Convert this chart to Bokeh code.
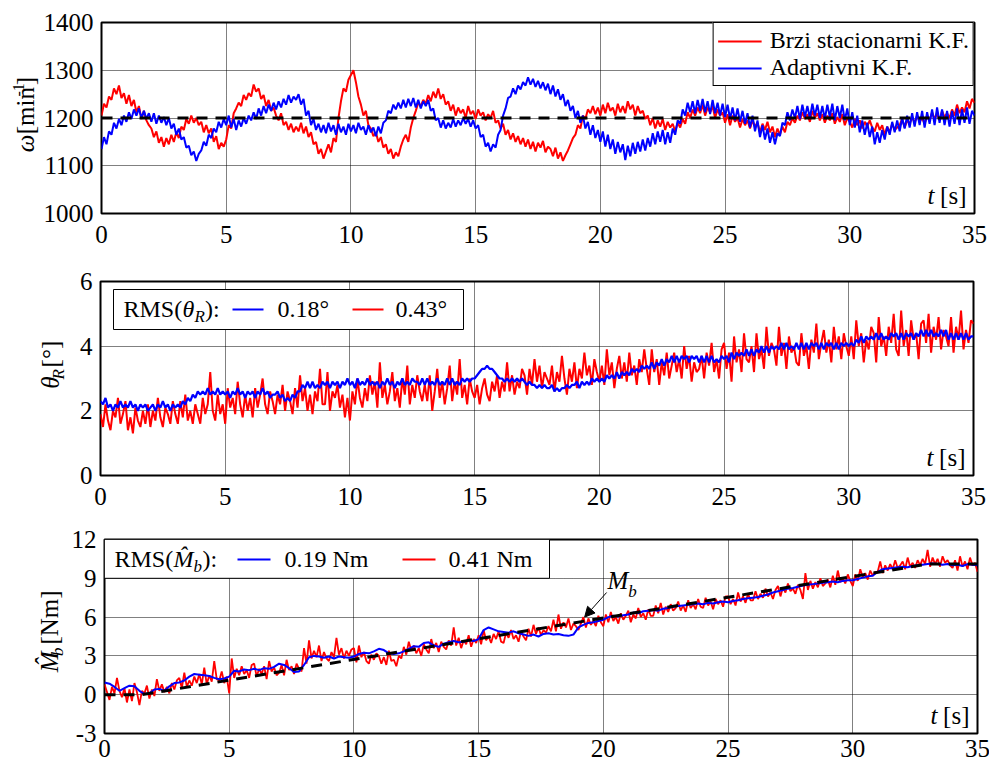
import numpy as np
from bokeh.plotting import figure
from bokeh.models import (Range1d, FixedTicker, Label, BoxAnnotation, Arrow,
                          NormalHead, Legend, LegendItem)
from bokeh.layouts import column, row
from bokeh.embed import file_html
from bokeh.resources import INLINE

# ---------------- data ----------------
x_ticks = [0, 5, 10, 15, 20, 25, 30, 35]
w_ticks = [1000, 1100, 1200, 1300, 1400]
theta_ticks = [0, 2, 4, 6]
mb_ticks = [-3, 0, 3, 6, 9, 12]

w_ref_t = [0, 35]
w_ref = [1200, 1200]
mb_ref_t = [0, 1.5, 33, 35]
mb_ref = [0, 0, 10.1, 10.1]

# speed, fast stationary KF  (0.1 s samples)
w_brzi = [
    1205, 1230, 1222, 1245, 1238, 1262, 1250, 1268, 1242, 1252,
    1230, 1248, 1225, 1238, 1212, 1225, 1198, 1215, 1195, 1185,
    1178, 1160, 1172, 1148, 1160, 1140, 1158, 1145, 1165, 1150,
    1170, 1158, 1182, 1175, 1198, 1188, 1205, 1190, 1200, 1185,
    1192, 1170, 1185, 1168, 1178, 1150, 1162, 1135, 1148, 1140,
    1155, 1185, 1178, 1210, 1220, 1232, 1225, 1248, 1238, 1252,
    1245, 1270, 1255, 1262, 1240, 1248, 1225, 1238, 1215, 1222,
    1205, 1195, 1210, 1185, 1192, 1175, 1188, 1170, 1182, 1172,
    1190, 1168, 1182, 1160, 1170, 1145, 1150, 1125, 1135, 1115,
    1130, 1145, 1128, 1158, 1150, 1200, 1235, 1262, 1255, 1280,
    1290, 1300, 1275, 1245, 1228, 1205, 1215, 1185, 1178, 1162,
    1170, 1150, 1160, 1138, 1145, 1125, 1135, 1115, 1128, 1120,
    1140, 1155, 1165, 1150, 1180, 1200, 1215, 1232, 1225, 1238,
    1230, 1248, 1235, 1255, 1242, 1262, 1240, 1250, 1228, 1235,
    1215, 1228, 1205, 1222, 1210, 1218, 1200, 1225, 1208, 1215,
    1198, 1218, 1205, 1212, 1195, 1208, 1200, 1215, 1190, 1195,
    1178, 1188, 1165, 1175, 1155, 1168, 1150, 1162, 1145, 1158,
    1140, 1155, 1135, 1150, 1130, 1148, 1138, 1152, 1128, 1140,
    1135, 1120, 1138, 1115, 1128, 1110, 1122, 1132, 1145, 1158,
    1165, 1185, 1178, 1205, 1198, 1218, 1210, 1225, 1208, 1222,
    1205, 1228, 1210, 1232, 1215, 1222, 1205, 1230, 1212, 1225,
    1210, 1235, 1218, 1228, 1205, 1225, 1210, 1215, 1198, 1205,
    1185, 1200, 1178, 1195, 1182, 1198, 1175, 1192, 1180, 1188,
    1172, 1190, 1180, 1198, 1188, 1212, 1200, 1218, 1205, 1222,
    1210, 1228, 1205, 1222, 1212, 1225, 1200, 1218, 1205, 1212,
    1190, 1208, 1185, 1205, 1192, 1200, 1180, 1198, 1185, 1195,
    1178, 1195, 1182, 1190, 1170, 1188, 1175, 1192, 1170, 1182,
    1160, 1178, 1165, 1182, 1170, 1192, 1185, 1200, 1190, 1205,
    1195, 1212, 1198, 1208, 1192, 1215, 1200, 1210, 1195, 1208,
    1190, 1205, 1195, 1210, 1188, 1202, 1192, 1208, 1185, 1200,
    1192, 1180, 1198, 1185, 1195, 1178, 1192, 1182, 1195, 1180,
    1172, 1190, 1175, 1185, 1165, 1182, 1170, 1188, 1175, 1180,
    1185, 1198, 1180, 1195, 1188, 1202, 1190, 1205, 1192, 1200,
    1188, 1205, 1195, 1212, 1198, 1210, 1195, 1215, 1202, 1210,
    1200, 1218, 1205, 1228, 1210, 1222, 1212, 1235, 1220, 1240,
    1232]

# speed, adaptive KF  (0.1 s samples)
w_adapt = [
    1135, 1160, 1145, 1172, 1165, 1190, 1178, 1198, 1185, 1205,
    1192, 1212, 1198, 1218, 1205, 1220, 1200, 1215, 1198, 1210,
    1192, 1210, 1188, 1205, 1190, 1202, 1185, 1200, 1178, 1188,
    1165, 1178, 1155, 1160, 1138, 1142, 1122, 1130, 1110, 1125,
    1132, 1150, 1142, 1165, 1158, 1178, 1170, 1192, 1180, 1198,
    1185, 1205, 1180, 1198, 1175, 1195, 1182, 1200, 1188, 1205,
    1195, 1212, 1198, 1220, 1205, 1225, 1210, 1228, 1215, 1232,
    1218, 1235, 1222, 1240, 1228, 1248, 1232, 1245, 1238, 1250,
    1228, 1240, 1205, 1215, 1185, 1198, 1175, 1188, 1170, 1185,
    1168, 1190, 1172, 1185, 1165, 1188, 1170, 1182, 1165, 1188,
    1172, 1185, 1168, 1190, 1175, 1182, 1165, 1185, 1170, 1180,
    1162, 1182, 1168, 1190, 1195, 1215, 1210, 1228, 1218, 1232,
    1220, 1238, 1222, 1240, 1225, 1242, 1222, 1238, 1220, 1235,
    1225, 1238, 1215, 1220, 1195, 1200, 1180, 1195, 1178, 1190,
    1180, 1198, 1182, 1195, 1185, 1200, 1188, 1198, 1182, 1195,
    1178, 1185, 1160, 1165, 1140, 1148, 1130, 1145, 1138, 1165,
    1175, 1205, 1220, 1242, 1245, 1262, 1250, 1268, 1260, 1275,
    1268, 1285, 1270, 1282, 1265, 1278, 1262, 1275, 1258, 1272,
    1250, 1268, 1245, 1260, 1238, 1250, 1225, 1238, 1215, 1225,
    1200, 1215, 1190, 1205, 1178, 1192, 1165, 1185, 1158, 1175,
    1150, 1172, 1140, 1165, 1135, 1155, 1125, 1150, 1128, 1145,
    1112, 1142, 1120, 1148, 1125, 1150, 1130, 1155, 1132, 1158,
    1140, 1168, 1145, 1172, 1150, 1175, 1145, 1170, 1148, 1178,
    1165, 1195, 1188, 1218, 1205, 1232, 1212, 1235, 1210, 1238,
    1215, 1240, 1212, 1235, 1208, 1238, 1210, 1232, 1205, 1230,
    1202, 1228, 1198, 1222, 1195, 1220, 1192, 1215, 1188, 1210,
    1180, 1205, 1172, 1195, 1160, 1185, 1155, 1178, 1148, 1170,
    1145, 1168, 1162, 1190, 1185, 1212, 1195, 1218, 1200, 1225,
    1198, 1228, 1202, 1225, 1200, 1230, 1205, 1228, 1200, 1225,
    1198, 1228, 1202, 1230, 1195, 1225, 1200, 1228, 1195, 1220,
    1185, 1212, 1180, 1205, 1170, 1195, 1165, 1190, 1160, 1182,
    1145, 1170, 1148, 1175, 1155, 1182, 1165, 1192, 1170, 1195,
    1172, 1200, 1178, 1205, 1180, 1210, 1182, 1212, 1185, 1215,
    1180, 1212, 1188, 1218, 1185, 1222, 1190, 1218, 1185, 1215,
    1182, 1215, 1188, 1220, 1185, 1218, 1190, 1222, 1188, 1215,
    1205]

# theta_R, fast stationary KF  (0.1 s samples)
theta_brzi = [
    1.9, 1.5, 2.2, 1.7, 1.4, 2.0, 1.8, 2.4, 1.6, 1.9,
    2.3, 1.4, 1.8, 1.3, 2.1, 1.7, 1.5, 2.0, 1.6, 2.2,
    1.5, 2.0, 1.7, 2.4, 1.8, 1.5, 2.1, 1.9, 1.6, 2.3,
    1.9, 1.6, 2.3, 1.8, 2.5, 1.7, 2.0, 1.6, 2.2, 1.9,
    1.6, 2.4, 1.9, 2.2, 3.2, 2.0, 1.7, 2.5, 1.9, 2.2,
    1.6, 2.7, 2.1, 2.4, 1.9, 2.9, 2.2, 1.8, 2.5, 2.0,
    2.4, 1.8, 2.7, 2.1, 2.5, 3.0, 2.2, 1.9, 2.6, 2.3,
    1.9, 2.5, 2.2, 2.8, 2.0, 2.6, 2.3, 1.9, 2.7, 2.1,
    3.1, 2.3, 2.7, 2.0, 2.5, 1.9, 2.6, 2.3, 3.3, 2.2,
    2.2, 3.2, 2.0, 2.6, 2.4, 2.8, 2.1, 2.5, 1.8, 2.4,
    1.7, 2.6, 2.2, 3.0, 2.4, 2.1, 2.7, 2.3, 3.1, 2.5,
    2.9, 2.1, 3.5, 2.4, 2.8, 2.2, 2.6, 3.2, 2.3, 2.7,
    2.1, 3.0, 2.5, 3.4, 2.2, 2.8, 2.4, 3.1, 2.6, 2.3,
    2.8, 2.3, 3.1, 2.0, 2.6, 3.3, 2.4, 2.9, 2.2, 2.7,
    3.4, 2.3, 2.9, 2.5, 3.6, 2.4, 2.8, 2.2, 3.0, 2.6,
    2.4, 2.8, 2.2, 2.7, 3.0, 2.5, 2.3, 2.9, 2.6, 3.1,
    2.4, 2.9, 2.6, 3.5, 2.6, 3.1, 2.5, 2.9, 2.7, 3.3,
    3.1, 2.5, 3.3, 2.8, 3.6, 2.9, 3.4, 2.7, 3.2, 3.0,
    2.8, 3.4, 2.6, 3.2, 2.9, 3.7, 3.0, 2.5, 3.3, 2.9,
    3.5, 2.7, 3.3, 3.0, 3.8, 3.1, 3.4, 2.8, 3.6, 3.2,
    2.9, 3.4, 2.8, 3.9, 3.1, 3.5, 2.7, 3.3, 3.7, 3.0,
    3.5, 2.9, 3.8, 3.1, 3.4, 2.8, 3.6, 3.2, 3.9, 3.3,
    2.8, 3.9, 3.2, 3.6, 2.8, 3.5, 3.1, 3.8, 3.0, 3.4,
    3.8, 3.2, 3.6, 3.0, 4.0, 3.3, 3.7, 2.9, 3.5, 3.2,
    3.3, 3.7, 3.0, 3.8, 3.4, 4.1, 3.2, 3.6, 3.0, 3.9,
    4.1, 3.3, 3.8, 2.9, 4.3, 3.5, 3.9, 3.2, 4.4, 3.6,
    3.5, 4.0, 3.2, 4.4, 3.6, 3.9, 3.3, 4.6, 3.7, 4.1,
    3.9, 3.4, 4.6, 3.7, 4.1, 3.3, 4.3, 3.8, 4.0, 3.5,
    3.4, 4.4, 3.7, 4.0, 3.3, 4.2, 3.8, 4.7, 3.6, 4.1,
    4.5, 3.8, 4.2, 3.5, 4.6, 3.9, 4.3, 3.6, 4.4, 4.0,
    3.7, 4.3, 3.6, 4.8, 4.0, 4.4, 3.5, 4.2, 3.9, 4.6,
    4.4, 3.5, 4.9, 4.0, 4.3, 3.7, 4.6, 4.1, 5.0, 3.9,
    3.7, 5.1, 4.0, 4.5, 3.7, 4.8, 4.2, 4.4, 3.6, 4.7,
    4.8, 4.1, 5.0, 3.8, 4.6, 4.2, 4.9, 3.9, 4.5, 4.3,
    4.0, 4.9, 3.8, 4.6, 4.2, 5.1, 3.9, 4.5, 4.1, 4.8,
    4.7]

# theta_R, adaptive KF  (0.1 s samples)
theta_adapt = [
    2.3, 2.2, 2.4, 2.1, 2.2, 2.0, 2.2, 2.1, 2.3, 2.1,
    2.2, 2.1, 2.3, 2.1, 2.2, 2.0, 2.2, 2.1, 2.2, 2.0,
    2.1, 2.2, 2.0, 2.2, 2.1, 2.3, 2.1, 2.2, 2.0, 2.2,
    2.1, 2.2, 2.1, 2.3, 2.2, 2.4, 2.3, 2.5, 2.4, 2.6,
    2.5, 2.6, 2.5, 2.7, 2.5, 2.6, 2.5, 2.7, 2.5, 2.6,
    2.5, 2.6, 2.4, 2.6, 2.5, 2.7, 2.5, 2.6, 2.4, 2.6,
    2.5, 2.6, 2.4, 2.6, 2.5, 2.7, 2.5, 2.6, 2.4, 2.5,
    2.5, 2.6, 2.4, 2.5, 2.3, 2.4, 2.3, 2.5, 2.4, 2.6,
    2.6, 2.8, 2.7, 2.9, 2.7, 2.9, 2.7, 2.8, 2.7, 2.9,
    2.8, 2.9, 2.7, 2.9, 2.8, 2.9, 2.7, 2.9, 2.8, 3.0,
    2.8, 2.9, 2.7, 3.0, 2.8, 2.9, 2.8, 3.0, 2.8, 2.9,
    2.8, 2.9, 2.7, 2.9, 2.8, 3.0, 2.8, 2.9, 2.7, 2.9,
    2.8, 3.0, 2.8, 2.9, 2.8, 3.0, 2.9, 2.9, 2.8, 3.0,
    2.8, 3.0, 2.8, 2.9, 2.8, 3.0, 2.8, 2.9, 2.8, 3.0,
    2.8, 3.0, 2.8, 2.9, 2.8, 3.0, 2.9, 3.0, 2.9, 3.0,
    3.0, 3.1, 3.2, 3.3, 3.3, 3.4, 3.3, 3.3, 3.2, 3.1,
    3.0, 3.0, 2.9, 3.0, 2.9, 3.0, 2.9, 3.0, 2.9, 3.0,
    2.9, 2.8, 2.9, 2.8, 2.8, 2.7, 2.8, 2.7, 2.8, 2.7,
    2.7, 2.8, 2.6, 2.7, 2.6, 2.7, 2.7, 2.8, 2.7, 2.8,
    2.8, 2.9, 2.7, 2.9, 2.8, 2.9, 2.8, 3.0, 2.9, 3.0,
    2.9, 3.0, 2.9, 3.1, 3.0, 3.1, 3.0, 3.2, 3.0, 3.2,
    3.1, 3.2, 3.1, 3.3, 3.2, 3.3, 3.2, 3.4, 3.3, 3.4,
    3.3, 3.5, 3.3, 3.5, 3.4, 3.6, 3.4, 3.6, 3.5, 3.7,
    3.5, 3.7, 3.5, 3.7, 3.6, 3.7, 3.5, 3.7, 3.6, 3.7,
    3.5, 3.7, 3.5, 3.7, 3.5, 3.7, 3.5, 3.6, 3.5, 3.7,
    3.6, 3.7, 3.5, 3.8, 3.6, 3.8, 3.7, 3.8, 3.7, 3.9,
    3.7, 3.9, 3.7, 3.9, 3.8, 4.0, 3.8, 4.0, 3.8, 4.0,
    3.9, 4.0, 3.9, 4.1, 3.9, 4.1, 3.9, 4.0, 3.9, 4.1,
    3.9, 4.1, 3.9, 4.1, 3.9, 4.1, 4.0, 4.1, 3.9, 4.1,
    3.9, 4.1, 4.0, 4.1, 3.9, 4.1, 3.9, 4.1, 4.0, 4.1,
    4.0, 4.1, 4.0, 4.2, 4.1, 4.3, 4.1, 4.3, 4.2, 4.3,
    4.2, 4.4, 4.2, 4.4, 4.2, 4.3, 4.2, 4.4, 4.3, 4.4,
    4.2, 4.4, 4.2, 4.4, 4.3, 4.4, 4.2, 4.4, 4.3, 4.5,
    4.3, 4.5, 4.3, 4.5, 4.3, 4.4, 4.3, 4.5, 4.3, 4.5,
    4.2, 4.4, 4.2, 4.4, 4.2, 4.4, 4.2, 4.4, 4.2, 4.3,
    4.3]

# estimated load torque, fast stationary KF  (0.1 s samples)
mb_brzi = [
    0.8, 0.2, -0.4, 0.6, 0.1, 1.3, 0.3, -0.2, 0.5, -0.6,
    0.4, -0.5, 0.9, 0.2, -0.8, 0.3, 0.1, 0.7, -0.3, 0.4,
    -0.1, 1.2, 0.3, 0.8, 0.2, 0.6, 0.1, 0.9, 0.4, 1.1,
    1.3, 0.5, 1.7, 0.6, 1.1, 0.7, 1.4, 0.9, 1.6, 0.8,
    2.1, 0.8, 1.5, 1.0, 2.6, 1.2, 1.1, 1.8, 0.9, 1.4,
    0.1, 2.8, 1.3, 2.0, 1.5, 2.2, 1.6, 1.9, 1.3, 2.3,
    2.4, 1.4, 2.0, 1.6, 2.2, 1.2, 2.6, 1.8, 2.1, 1.5,
    1.7, 2.3, 1.5, 2.7, 1.9, 2.2, 1.6, 2.4, 2.0, 1.8,
    3.6, 2.4, 4.2, 2.8, 3.4, 2.9, 3.8, 2.6, 3.3, 2.8,
    2.6, 3.3, 2.9, 4.4, 3.1, 3.6, 2.8, 3.4, 3.0, 3.5,
    3.6, 2.5, 3.8, 2.9, 3.3, 2.6, 2.4, 3.1, 2.7, 3.2,
    3.0, 2.4, 2.9, 2.3, 3.4, 2.6, 2.7, 2.2, 3.0, 2.8,
    3.7, 3.1, 4.1, 3.4, 3.8, 3.2, 3.6, 3.0, 3.9, 3.5,
    3.2, 4.3, 3.6, 4.0, 3.3, 4.1, 3.7, 3.5, 4.2, 3.8,
    5.2, 3.8, 4.4, 3.6, 4.2, 3.9, 4.6, 3.7, 4.3, 4.0,
    4.6, 3.9, 5.0, 4.2, 4.5, 4.0, 4.7, 4.3, 4.9, 4.1,
    4.0, 4.8, 4.4, 5.0, 4.3, 4.6, 4.1, 4.9, 4.5, 4.2,
    5.1, 4.5, 5.4, 4.7, 5.2, 4.6, 5.0, 4.8, 5.3, 4.9,
    5.8, 4.9, 6.2, 5.1, 5.6, 5.2, 5.9, 5.0, 5.5, 5.3,
    5.0, 5.5, 6.0, 5.2, 5.9, 5.4, 5.7, 5.3, 6.1, 5.6,
    5.3, 6.2, 5.6, 6.4, 5.7, 6.0, 5.5, 6.3, 5.8, 6.1,
    6.5, 5.6, 6.2, 5.9, 6.7, 6.0, 6.3, 5.8, 6.6, 6.1,
    6.1, 6.9, 6.3, 7.1, 6.2, 6.8, 6.4, 7.0, 6.5, 6.7,
    7.2, 6.5, 6.9, 6.4, 7.3, 6.7, 7.0, 6.6, 7.4, 6.8,
    6.7, 7.5, 6.9, 7.2, 6.6, 7.4, 7.0, 7.3, 6.8, 7.6,
    7.6, 7.0, 7.4, 6.9, 7.9, 7.2, 7.6, 7.1, 7.8, 7.3,
    7.3, 8.0, 7.4, 7.8, 7.5, 8.2, 7.6, 7.9, 7.4, 8.1,
    8.4, 7.6, 8.3, 7.9, 8.6, 8.0, 8.2, 7.8, 8.5, 8.1,
    7.4, 9.4, 8.1, 8.8, 8.2, 8.7, 8.3, 9.0, 8.4, 8.6,
    8.9, 8.3, 9.2, 8.5, 9.6, 8.7, 9.0, 8.6, 9.3, 8.8,
    8.4, 9.3, 8.8, 9.7, 9.1, 9.4, 8.9, 9.6, 9.2, 9.5,
    9.5, 10.3, 9.4, 10.0, 9.6, 10.1, 9.7, 10.4, 9.8, 10.0,
    10.3, 9.7, 10.6, 9.9, 10.2, 9.8, 10.4, 10.0, 10.5, 10.1,
    11.2, 9.9, 10.6, 10.1, 10.5, 9.9, 10.7, 10.2, 10.4, 10.0,
    9.8, 10.4, 9.6, 10.7, 9.9, 10.3, 9.7, 10.6, 10.0, 10.2,
    9.5]

# estimated load torque, adaptive KF  (0.2 s samples)
mb_adapt = [
    0.95, 0.85, 0.60, 0.30, 0.50, 0.70, 0.65, 0.30, 0.05, 0.10,
    0.40, 0.45, 0.30, 0.65, 0.90, 0.95, 1.10, 1.40, 1.60, 1.55,
    1.50, 1.45, 1.30, 1.20, 1.25, 1.40, 1.85, 1.80, 1.95, 1.90,
    2.00, 1.90, 2.05, 2.00, 2.15, 2.40, 2.30, 2.05, 1.75, 1.80,
    2.30, 2.90, 3.00, 2.95, 2.85, 2.95, 2.80, 2.95, 2.90, 2.85,
    2.95, 3.15, 3.25, 3.20, 3.35, 3.55, 3.45, 3.20, 3.15, 3.20,
    3.35, 3.55, 3.75, 3.70, 4.00, 4.05, 3.80, 3.70, 3.95, 4.05,
    4.15, 4.05, 4.10, 4.20, 4.15, 4.30, 5.00, 5.20, 5.05, 4.90,
    4.85, 4.80, 4.90, 4.75, 4.65, 4.55, 4.65, 4.50, 4.70, 4.75,
    4.65, 4.70, 4.60, 4.55, 4.65, 5.20, 5.40, 5.55, 5.60, 5.70,
    5.80, 6.00, 6.10, 6.05, 6.15, 6.20, 6.35, 6.30, 6.45, 6.50,
    6.55, 6.50, 6.65, 6.70, 6.80, 6.85, 6.90, 6.95, 7.00, 7.05,
    7.00, 7.10, 7.05, 7.15, 7.20, 7.15, 7.25, 7.30, 7.40, 7.45,
    7.50, 7.55, 7.65, 7.75, 7.90, 8.00, 8.10, 8.20, 8.25, 8.35,
    8.45, 8.50, 8.55, 8.60, 8.65, 8.70, 8.75, 8.70, 8.80, 8.85,
    8.85, 8.95, 9.05, 9.15, 9.20, 9.50, 9.70, 9.75, 9.80, 9.85,
    9.90, 9.85, 9.95, 10.00, 10.05, 10.10, 10.15, 10.10, 10.05, 10.10,
    10.00, 10.05, 9.95, 10.10, 10.05, 10.00]

legend_w = ["Brzi stacionarni K.F.", "Adaptivni K.F."]
rms_theta = ["0.18°", "0.43°"]
rms_mb = ["0.19 Nm", "0.41 Nm"]


def times(series):
    # evenly spaced sample instants over the 0..35 s record
    return np.linspace(0.0, 35.0, len(series))


# ---------------- styling helpers ----------------
FONT = "Liberation Serif"
RED = "#ff0000"
BLUE = "#0000ff"
FW = 873          # frame width in px
RB = 13           # right border
MID = 0.34        # distance (in em) from the alphabetic baseline to the text middle


def make_fig(yr, fh, yticks, bl, bt, bb, standoff):
    p = figure(frame_width=FW, frame_height=fh,
               x_range=Range1d(0, 35), y_range=Range1d(*yr),
               output_backend="svg", toolbar_location=None,
               min_border_left=bl, min_border_right=RB,
               min_border_top=bt, min_border_bottom=bb)
    p.outline_line_color = "black"
    p.outline_line_width = 2
    p.outline_line_alpha = 1
    p.xaxis[0].ticker = FixedTicker(ticks=x_ticks)
    p.yaxis[0].ticker = FixedTicker(ticks=yticks)
    p.xgrid[0].ticker = FixedTicker(ticks=x_ticks)
    p.ygrid[0].ticker = FixedTicker(ticks=yticks)
    for ax in (p.xaxis[0], p.yaxis[0]):
        ax.axis_line_color = None
        ax.major_tick_line_color = None
        ax.minor_tick_line_color = None
        ax.major_tick_out = 0
        ax.major_tick_in = 0
        ax.minor_tick_out = 0
        ax.minor_tick_in = 0
        ax.major_label_text_font = FONT
        ax.major_label_text_font_size = "25px"
        ax.major_label_text_color = "black"
    p.xaxis[0].major_label_standoff = standoff
    p.yaxis[0].major_label_standoff = 8
    for g in (p.xgrid[0], p.ygrid[0]):
        g.grid_line_color = "black"
        g.grid_line_dash = "1 1"
        g.grid_line_width = 1
        g.grid_line_alpha = 1.0
    return p


def strip_fig(w, h):
    s = figure(width=w, height=h, x_range=Range1d(0, w), y_range=Range1d(0, h),
               output_backend="svg", toolbar_location=None,
               x_axis_type=None, y_axis_type=None,
               min_border_left=0, min_border_right=0,
               min_border_top=0, min_border_bottom=0)
    s.outline_line_color = None
    s.xgrid.visible = False
    s.ygrid.visible = False
    return s


def fx(dx):
    return dx * 35.0 / FW


def fy(p, fh, dy):
    y0, y1 = p.y_range.start, p.y_range.end
    return y1 - dy * (y1 - y0) / fh


def txt(p, x, y, s, size=25, style="normal", angle=0.0, align="left"):
    p.add_layout(Label(x=x, y=y, text=s, text_font=FONT, text_font_size=f"{size}px",
                       text_font_style=style, text_color="black", angle=angle,
                       text_align=align, text_baseline="middle"))


def htxt(p, fh, dx, dy_base, s, size=25, style="normal", align="left"):
    """horizontal text in a panel; dx/dy_base in px from the frame's top-left,
    dy_base is the alphabetic baseline"""
    txt(p, fx(dx), fy(p, fh, dy_base - MID * size), s, size, style, 0.0, align)


def vtxt(s, x_base, y, text, size=25, style="normal"):
    """text rotated 90 deg in a label strip; x_base is the baseline position"""
    txt(s, x_base - MID * size, y, text, size, style, np.pi / 2, "left")


def t_label(p, fh):
    htxt(p, fh, FW - 8, fh - 10, "[s]", align="right")
    htxt(p, fh, FW - 40, fh - 10, "t", style="italic", align="right")


# ---------------- panel 1 : speed ----------------
FH1, BT1, BB1, SW1 = 191, 22, 40, 40
H1 = BT1 + FH1 + BB1
p1 = make_fig((1000, 1400), FH1, w_ticks, 100 - SW1, BT1, BB1, 12)
r_red = p1.line(times(w_brzi), w_brzi, line_color=RED, line_width=2)
r_blue = p1.line(times(w_adapt), w_adapt, line_color=BLUE, line_width=2)
p1.line(w_ref_t, w_ref, line_color="black", line_width=3, line_dash="11 8")
leg = Legend(items=[LegendItem(label=legend_w[0], renderers=[r_red]),
                    LegendItem(label=legend_w[1], renderers=[r_blue])],
             location="top_right", margin=0, padding=4, spacing=0,
             label_standoff=8, glyph_width=44, glyph_height=22, label_height=22,
             label_text_font=FONT, label_text_font_size="24px",
             label_text_color="black", border_line_color="black",
             border_line_width=1, border_line_alpha=1,
             background_fill_color="white", background_fill_alpha=1)
p1.add_layout(leg)
t_label(p1, FH1)
s1 = strip_fig(SW1, H1)
vtxt(s1, 33, H1 - 172, "ω", style="italic")
vtxt(s1, 33, H1 - 148, "[min")
vtxt(s1, 23, H1 - 98, "-1", size=16)
vtxt(s1, 33, H1 - 83, "]")

# ---------------- panel 2 : theta_R ----------------
FH2, BT2, BB2, SW2 = 194, 28, 40, 70
H2 = BT2 + FH2 + BB2
p2 = make_fig((0, 6), FH2, theta_ticks, 100 - SW2, BT2, BB2, 12)
p2.line(times(theta_brzi), theta_brzi, line_color=RED, line_width=2)
p2.line(times(theta_adapt), theta_adapt, line_color=BLUE, line_width=2.2)
t_label(p2, FH2)
s2 = strip_fig(SW2, H2)
top2 = H1  # page y of this row
vtxt(s2, 58, H2 - (398 - top2), "θ", style="italic")
vtxt(s2, 64, H2 - (385.5 - top2), "R", size=17, style="italic")
vtxt(s2, 58, H2 - (369 - top2), "[°]")
# legend box
p2.add_layout(BoxAnnotation(left=fx(13), right=fx(363), top=fy(p2, FH2, 8),
                            bottom=fy(p2, FH2, 48), fill_color="white", fill_alpha=1,
                            line_color="black", line_width=1, line_alpha=1))
htxt(p2, FH2, 23, 36, "RMS(", size=24)
htxt(p2, FH2, 82, 36, "θ", size=24, style="italic")
htxt(p2, FH2, 94, 41, "R", size=17, style="italic")
htxt(p2, FH2, 104.5, 36, "):", size=24)
seg2 = p2.segment(x0=[fx(132), fx(252)], y0=[fy(p2, FH2, 28)] * 2,
                  x1=[fx(163), fx(283)], y1=[fy(p2, FH2, 28)] * 2,
                  line_color=[BLUE, RED], line_width=2)
seg2.level = "overlay"
htxt(p2, FH2, 177, 36, rms_theta[0], size=24)
htxt(p2, FH2, 295, 36, rms_theta[1], size=24)

# ---------------- panel 3 : M_b ----------------
FH3, BT3, BB3, SW3 = 194, 24, 35, 68
H3 = BT3 + FH3 + BB3
p3 = make_fig((-3, 12), FH3, mb_ticks, 100 - SW3, BT3, BB3, 6)
p3.yaxis[0].major_label_overrides = {-3: "-3"}
p3.line(times(mb_brzi), mb_brzi, line_color=RED, line_width=1.8)
p3.line(times(mb_adapt), mb_adapt, line_color=BLUE, line_width=2)
p3.line(mb_ref_t, mb_ref, line_color="black", line_width=3, line_dash="11 8")
t_label(p3, FH3)
s3 = strip_fig(SW3, H3)
top3 = H1 + H2
vtxt(s3, 57, H3 - (688 - top3), "M\u0302", style="italic")
vtxt(s3, 63, H3 - (667 - top3), "b", size=17, style="italic")
vtxt(s3, 57, H3 - (652 - top3), "[Nm]")
p3.add_layout(BoxAnnotation(left=0, right=fx(445), top=12, bottom=9,
                            fill_color="white", fill_alpha=1,
                            line_color="black", line_width=1, line_alpha=1))
htxt(p3, FH3, 10, 28, "RMS(", size=24)
htxt(p3, FH3, 69, 28, "M\u0302", size=24, style="italic")
htxt(p3, FH3, 89, 33, "b", size=17, style="italic")
htxt(p3, FH3, 98, 28, "):", size=24)
seg3 = p3.segment(x0=[fx(133), fx(298)], y0=[fy(p3, FH3, 20)] * 2,
                  x1=[fx(166), fx(331)], y1=[fy(p3, FH3, 20)] * 2,
                  line_color=[BLUE, RED], line_width=2)
seg3.level = "overlay"
htxt(p3, FH3, 180, 28, rms_mb[0], size=24)
htxt(p3, FH3, 344, 28, rms_mb[1], size=24)
# M_b annotation with arrow
p3.add_layout(Arrow(end=NormalHead(size=10, fill_color="black", line_color="black"),
                    x_start=20.13, y_start=7.9, x_end=19.25, y_end=6.0,
                    line_color="black", line_width=1))
px3 = 15.0 / FH3   # data units per px in panel 3
txt(p3, 20.17, 8.2 + MID * 25 * px3, "M", 25, "italic")
txt(p3, 21.0, 7.5 + MID * 17 * px3, "b", 17, "italic")

layout = column(row(s1, p1, spacing=0), row(s2, p2, spacing=0),
                row(s3, p3, spacing=0), spacing=0)
open("out.html", "w").write(file_html(layout, INLINE))
